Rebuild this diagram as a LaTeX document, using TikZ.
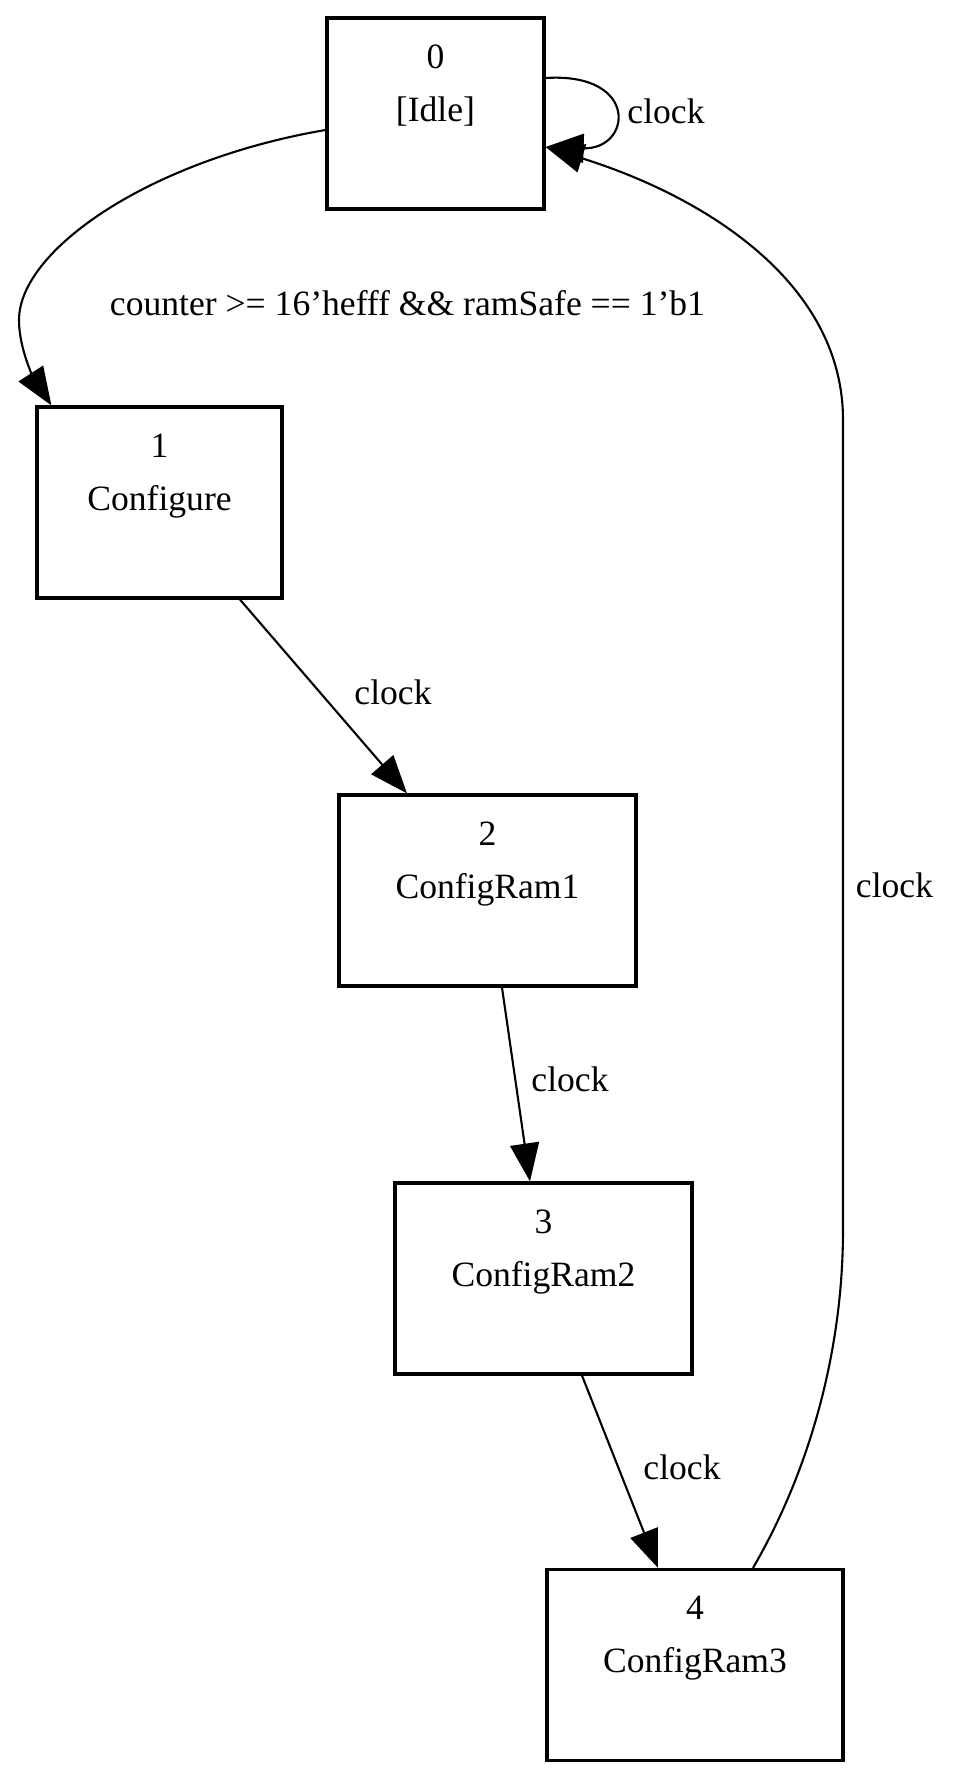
\documentclass[tikz,border=0pt]{standalone}
\usepackage{fontspec}
\setmainfont{Liberation Serif}
\usetikzlibrary{arrows.meta,calc}
\newcommand\stlab[3]{\parbox[c][191pt][t]{#1}{\centering\rule{0pt}{50pt}#2\par #3\par}}
\begin{document}
\begin{tikzpicture}[x=1pt,y=-1pt,
  every node/.style={font=\fontsize{35.6}{53}\selectfont},
  state/.style={draw, line width=3.2pt, inner sep=0pt},
  trans/.style={line width=2.1pt, -{Triangle[length=38pt,width=29pt]}},
  elabel/.style={anchor=base, inner sep=0pt}]
\fill[white] (0,0) rectangle (962,1781);
\useasboundingbox (0,0) rectangle (962,1781);
% states
\node[state] (n0) at (435.5,113.5) {\stlab{217pt}{0}{[Idle]}};
\node[state] (n1) at (159.5,502.5) {\stlab{245pt}{1}{Configure}};
\node[state] (n2) at (487.5,890.5) {\stlab{297pt}{2}{ConfigRam1}};
\node[state] (n3) at (543.5,1278.5) {\stlab{297pt}{3}{ConfigRam2}};
\node[state] (n4) at (695,1665) {\stlab{296pt}{4}{ConfigRam3}};
% transitions
\draw[trans] ($(n0.west)+(0,16.5)$) .. controls (150,160) and (19,250) .. (19,320)
  .. controls (19,350) and (35,380) .. ($(n1.north west)+(16,0)$);
\draw[trans] ($(n0.east)+(0,-35.5)$) .. controls (640,72) and (632,150) .. ($(n0.east)+(0,33.5)$);
\draw[trans] ($(n1.south)+(80.5,0)$) -- ($(n2.north)+(-80.5,0)$);
\draw[trans] ($(n2.south)+(14.5,0)$) -- ($(n3.north)+(-13.5,0)$);
\draw[trans] ($(n3.south)+(38.5,0)$) -- ($(n4.north)+(-37,0)$);
\draw[trans] ($(n4.north)+(58,0)$) .. controls (810,1470) and (843,1350) .. (843,1230)
  -- (843,420) .. controls (843,280) and (700,195) .. ($(n0.east)+(0,33.5)$);
% labels
\node[elabel] (l00) at (666,123) {clock};
\node[elabel] (l01) at (407.5,315) {counter >= 16'hefff \&\& ramSafe == 1'b1};
\node[elabel] (l12) at (393,704) {clock};
\node[elabel] (l23) at (570,1091) {clock};
\node[elabel] (l34) at (682,1479) {clock};
\node[elabel] (l40) at (894.5,897) {clock};
\end{tikzpicture}
\end{document}
